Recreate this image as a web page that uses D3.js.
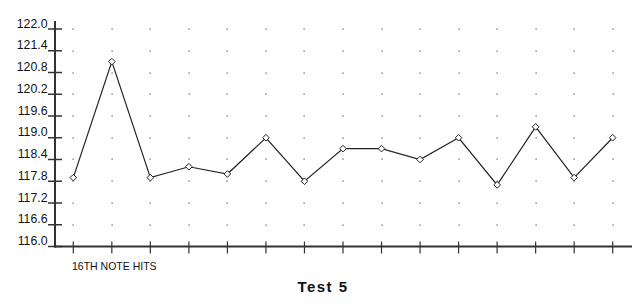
<!DOCTYPE html>
<html>
<head>
<meta charset="utf-8">
<script src="https://cdn.jsdelivr.net/npm/d3@7"></script>
<style>
  body { margin: 0; background: #fff; }
  svg { display: block; font-family: "Liberation Sans", Arial, sans-serif; }
</style>
</head>
<body>
<svg id="chart" width="639" height="308"></svg>
<script>
// values
var hits = d3.range(1, 16);
var tempo = [117.9, 121.1, 117.9, 118.2, 118.0, 119.0, 117.8, 118.7, 118.7, 118.4, 119.0, 117.7, 119.3, 117.9, 119.0];
var yTicks = [116.0, 116.6, 117.2, 117.8, 118.4, 119.0, 119.6, 120.2, 120.8, 121.4, 122.0];
var xLabel = "16TH NOTE HITS";
var title = "Test 5";

var margin = {left: 55, top: 29, right: 7, bottom: 61};
var width = 639, height = 308;

var chart = d3.select('#chart');

var x = d3.scalePoint()
    .domain(hits)
    .range([73.3, 612.7]);

var y = d3.scaleLinear()
    .domain([116, 122])
    .range([height - margin.bottom - 0.5, margin.top]);

// dotted grid
var grid = chart.append("g");
hits.forEach(function(h) {
    yTicks.slice(1).forEach(function(t) {
        grid.append("rect")
            .attr("x", Math.round(x(h)) - 0.5)
            .attr("y", Math.round(y(t)) - 0.5)
            .attr("width", 1.2)
            .attr("height", 1.2)
            .attr("fill", "#555");
    });
});

// y axis
var yAxis = chart.append("g");
yAxis.append("line")
    .attr("x1", margin.left).attr("x2", margin.left)
    .attr("y1", 21).attr("y2", y(116) + 1)
    .attr("stroke", "#333").attr("stroke-width", 2);
yAxis.selectAll(".yt")
    .data(yTicks)
    .enter().append("line")
    .attr("x1", 48).attr("x2", 62)
    .attr("y1", d => y(d)).attr("y2", d => y(d))
    .attr("stroke", "#333").attr("stroke-width", 1.5);
yAxis.selectAll("text")
    .data(yTicks)
    .enter().append("text")
    .attr("x", 47.5)
    .attr("y", d => y(d) - 1.5)
    .attr("text-anchor", "end")
    .attr("font-size", 12.3)
    .attr("fill", "#111")
    .text(d => d.toFixed(1));

// x axis
var xAxis = chart.append("g");
xAxis.append("line")
    .attr("x1", margin.left - 1).attr("x2", 632)
    .attr("y1", y(116)).attr("y2", y(116))
    .attr("stroke", "#333").attr("stroke-width", 2);
xAxis.selectAll(".xt")
    .data(hits)
    .enter().append("line")
    .attr("x1", d => x(d)).attr("x2", d => x(d))
    .attr("y1", y(116) - 5).attr("y2", y(116) + 7)
    .attr("stroke", "#333").attr("stroke-width", 1.2);
xAxis.append("text")
    .attr("x", 72)
    .attr("y", 270)
    .attr("font-size", 10.5)
    .attr("fill", "#111")
    .text(xLabel);

// line
var line = d3.line()
    .x((d, i) => x(hits[i]))
    .y(d => y(d));

chart.append("path")
    .datum(tempo)
    .attr("fill", "none")
    .attr("stroke", "#222")
    .attr("stroke-width", 1.2)
    .attr("d", line);

chart.append("g")
    .selectAll("path")
    .data(tempo)
    .enter().append("path")
    .attr("d", d3.symbol().type(d3.symbolDiamond2).size(28))
    .attr("transform", (d, i) => "translate(" + x(hits[i]) + "," + y(d) + ")")
    .attr("fill", "#fff")
    .attr("stroke", "#222")
    .attr("stroke-width", 1);

chart.append("text")
    .attr("x", 323)
    .attr("y", 292)
    .attr("text-anchor", "middle")
    .attr("font-size", 15)
    .attr("font-weight", "bold")
    .attr("letter-spacing", 1.5)
    .attr("fill", "#111")
    .text(title);
</script>
</body>
</html>
